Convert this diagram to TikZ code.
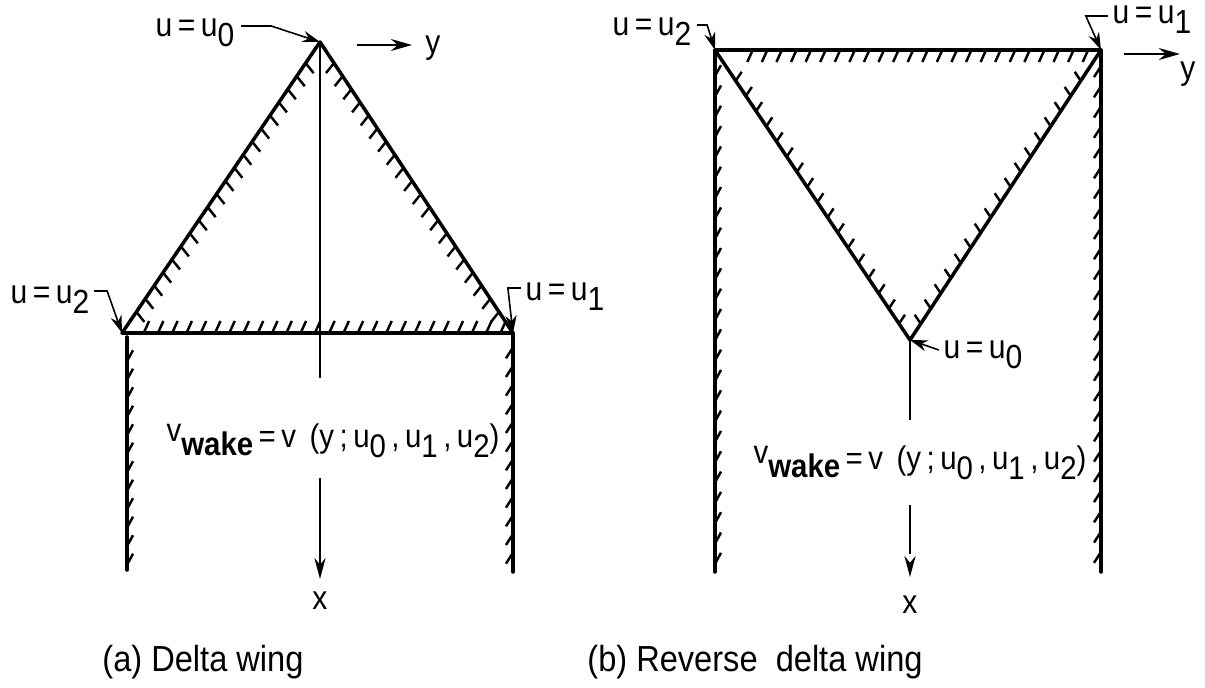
\documentclass[tikz,border=0pt]{standalone}
\usepackage{fontspec}
\setmainfont[FakeStretch=0.9]{Liberation Sans}
\usetikzlibrary{arrows.meta,calc}
\newcommand\lowsub[1]{\raisebox{-0.55ex}{#1}}
\newcommand\hatchseg[4]{\foreach \k in {1,...,#3}{\draw[hatchtick] ($(#1)!{(\k-0.5)/#3}!(#2)$) -- ++(#4);}}
\tikzset{
  wallline/.style={line width=1pt, line cap=round, line join=round},
  hatchtick/.style={line width=0.7pt},
  axisline/.style={line width=0.35pt},
  pointer/.style={line width=0.45pt, -{Stealth[length=5pt,width=3.2pt]}},
  axisarrow/.style={line width=0.7pt, -{Stealth[length=6pt,width=3.4pt]}},
  lab/.style={font=\fontsize{9.5}{10}\selectfont, inner sep=0pt},
  eqlab/.style={font=\fontsize{9.3}{11}\selectfont, inner sep=0pt},
  caplab/.style={font=\fontsize{10.3}{12}\selectfont, inner sep=0pt}
}
\begin{document}
\begin{tikzpicture}[x=0.01cm,y=-0.01cm]
\useasboundingbox (0,0) rectangle (1205,688);

%% ---------------- (a) Delta wing ----------------
\coordinate (A0) at (320,42);
\coordinate (A2) at (122,333);
\coordinate (A1) at (513,333);
\coordinate (WaL0) at (127,337);
\coordinate (WaL1) at (127,570);
\coordinate (WaR0) at (513,333);
\coordinate (WaR1) at (513,572);

\draw[wallline] (A2) -- (A0) -- (A1) -- cycle;
\draw[wallline] (WaL0) -- (WaL1);
\draw[wallline] (WaR0) -- (WaR1);

% hatching
\hatchseg{137,332}{508,332}{26}{5,-11}
\coordinate (hA0) at ($(A0)!0.05!(A2)$);
\coordinate (hA2) at ($(A0)!0.95!(A2)$);
\hatchseg{hA0}{hA2}{20}{8,10}
\coordinate (hB0) at ($(A0)!0.05!(A1)$);
\coordinate (hB1) at ($(A0)!0.95!(A1)$);
\hatchseg{hB0}{hB1}{20}{-8,10}
\hatchseg{127,352}{127,574}{12}{6,-11}
\hatchseg{513,338}{513,562}{12}{-7,11}

% x axis (centerline)
\coordinate (axa1) at (320,378);
\coordinate (axa2) at (320,478);
\coordinate (axa3) at (320,579);
\draw[axisline] (A0) -- (axa1);
\draw[axisline,-{Stealth[length=6pt,width=3.2pt]}] (axa2) -- (axa3);
\node[lab] (xa) at (320,601) {x};

% y axis
\coordinate (ya0) at (357,45);
\coordinate (ya1) at (412,45);
\draw[axisarrow] (ya0) -- (ya1);
\node[lab] (ya) at (433,48) {y};

% labels
\node[lab] (la0) at (195,33) {u\,=\,u\lowsub{0}};
\draw[pointer] ($(la0.east)+(6,-7)$) -- ++(30,0) -- (A0);
\node[lab] (la2) at (50,300) {u\,=\,u\lowsub{2}};
\draw[pointer] ($(la2.east)+(4,-9)$) -- ++(13,0) -- (A2);
\node[lab] (la1) at (565,297) {u\,=\,u\lowsub{1}};
\draw[pointer] ($(la1.west)+(-4,-9)$) -- ++(-13,0) -- (A1);

\node[eqlab] (eqa) at (333,441) {\raisebox{0.35ex}{v}\raisebox{-0.45ex}{\bfseries wake}\,=\,v\, (y\,;\,u\lowsub{0}\,,\,u\lowsub{1}\,,\,u\lowsub{2})};

\node[caplab] (capa) at (203,662) {(a) Delta wing};

%% ---------------- (b) Reverse delta wing ----------------
\coordinate (B2) at (715,50);
\coordinate (B1) at (1101,50);
\coordinate (B0) at (910,340);
\coordinate (WbL1) at (715,572);
\coordinate (WbR1) at (1101,572);

\draw[wallline] (B2) -- (B1) -- (B0) -- cycle;
\draw[wallline] (B2) -- (WbL1);
\draw[wallline] (B1) -- (WbR1);

\hatchseg{745,51}{1095,51}{24}{-5,11}
\coordinate (hC0) at ($(B2)!0.08!(B0)$);
\coordinate (hC1) at ($(B2)!0.97!(B0)$);
\hatchseg{hC0}{hC1}{17}{6,-9}
\coordinate (hD0) at ($(B1)!0.08!(B0)$);
\coordinate (hD1) at ($(B1)!0.97!(B0)$);
\hatchseg{hD0}{hD1}{17}{-6,-9}
\hatchseg{715,66}{715,574}{25}{6,-11}
\hatchseg{1101,56}{1101,562}{25}{-7,11}

% x axis (centerline)
\coordinate (axb1) at (910,420);
\coordinate (axb2) at (910,505);
\coordinate (axb3) at (910,577);
\draw[axisline] (B0) -- (axb1);
\draw[axisline,dash pattern=on 14pt off 3pt,-{Stealth[length=6pt,width=3.2pt]}] (axb2) -- (axb3);
\node[lab] (xb) at (910,605) {x};

% y axis
\coordinate (yb0) at (1124,54);
\coordinate (yb1) at (1180,54);
\draw[axisarrow] (yb0) -- (yb1);
\node[lab] (yb) at (1188,74) {y};

% labels
\node[lab] (lb2) at (652,32) {u\,=\,u\lowsub{2}};
\draw[pointer] ($(lb2.east)+(5,-7)$) -- ++(10,0) -- (B2);
\node[lab] (lb1) at (1152,20) {u\,=\,u\lowsub{1}};
\draw[pointer] ($(lb1.west)+(-4,-4)$) -- ++(-22,0) -- (B1);
\node[lab] (lb0) at (983,355) {u\,=\,u\lowsub{0}};
\draw[pointer] ($(lb0.west)+(-4,-5)$) -- (B0);

\node[eqlab] (eqb) at (920,463) {\raisebox{0.35ex}{v}\raisebox{-0.45ex}{\bfseries wake}\,=\,v\, (y\,;\,u\lowsub{0}\,,\,u\lowsub{1}\,,\,u\lowsub{2})};

\node[caplab] (capb) at (755,662) {(b) Reverse\ \ delta wing};
\end{tikzpicture}
\end{document}
